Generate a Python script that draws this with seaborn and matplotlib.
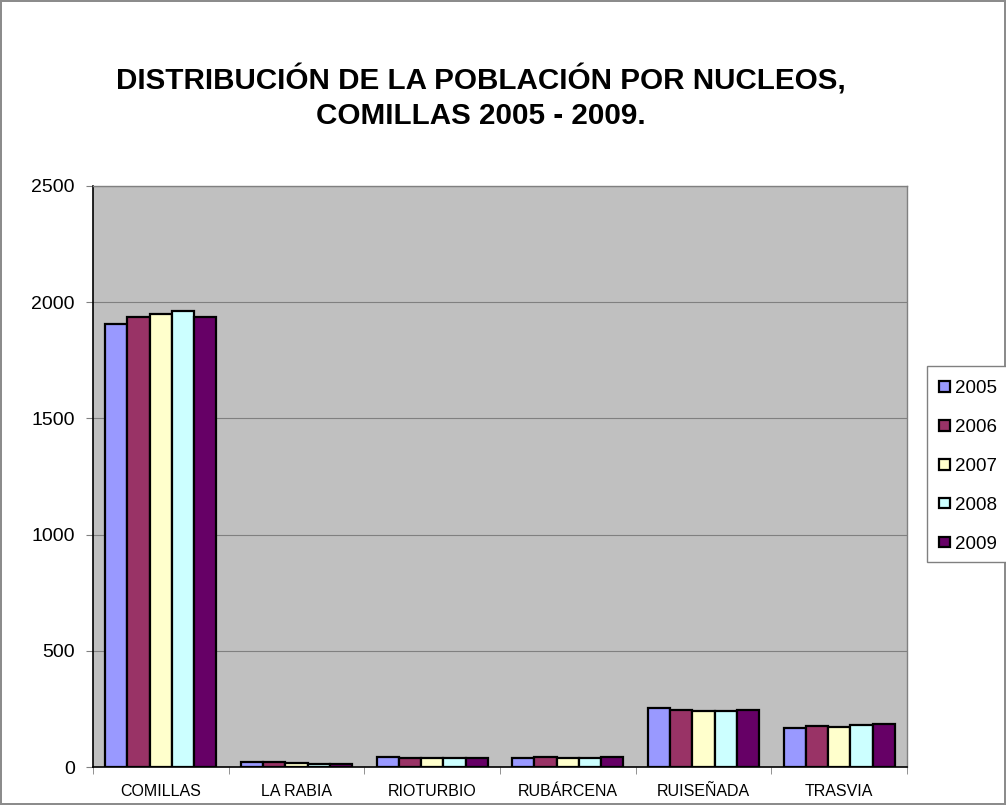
import pandas as pd
import matplotlib.pyplot as plt
from matplotlib.patches import Rectangle
import seaborn as sns

# Population by nucleus, Comillas 2005-2009
NUCLEOS = ["COMILLAS", "LA RABIA", "RIOTURBIO", "RUBÁRCENA", "RUISEÑADA", "TRASVIA"]
YEARS = ["2005", "2006", "2007", "2008", "2009"]
POP_2005 = [1906, 22, 43, 40, 254, 166]
POP_2006 = [1936, 20, 39, 42, 245, 178]
POP_2007 = [1949, 18, 40, 38, 241, 173]
POP_2008 = [1963, 15, 39, 38, 241, 179]
POP_2009 = [1936, 12, 38, 41, 245, 183]
COLORS = ["#9999FF", "#993366", "#FFFFCC", "#CCFFFF", "#660066"]


def build_frame() -> pd.DataFrame:
    series = [POP_2005, POP_2006, POP_2007, POP_2008, POP_2009]
    rows = []
    for year, values in zip(YEARS, series):
        for nucleo, v in zip(NUCLEOS, values):
            rows.append({"nucleo": nucleo, "year": year, "pop": v})
    return pd.DataFrame(rows)


def main() -> None:
    df = build_frame()

    sns.set_style("white")
    plt.rcParams["font.family"] = ["Liberation Sans", "DejaVu Sans"]
    plt.rcParams["text.color"] = "black"
    plt.rcParams["xtick.labelcolor"] = "black"
    plt.rcParams["ytick.labelcolor"] = "black"

    fig = plt.figure(figsize=(10.06, 8.05), dpi=100,
                     edgecolor="#8c8c8c", linewidth=1.5)
    ax = fig.add_axes([0.0924, 0.0472, 0.8092, 0.7218])
    ax.set_facecolor("#C0C0C0")

    sns.barplot(data=df, x="nucleo", y="pop", hue="year", order=NUCLEOS,
                hue_order=YEARS, palette=COLORS, saturation=1, width=0.82,
                gap=0, edgecolor="black", linewidth=1.6, ax=ax, zorder=3)

    ax.set_ylim(0, 2500)
    ax.set_yticks(range(0, 2501, 500))
    ax.set_xlim(-0.5, len(NUCLEOS) - 0.5)
    ax.yaxis.grid(True, color="#808080", linewidth=0.8, zorder=0)
    ax.set_axisbelow(True)
    ax.set_xlabel("")
    ax.set_ylabel("")

    # tick marks between categories like the spreadsheet original
    ax.set_xticks([i + 0.5 for i in range(-1, len(NUCLEOS))], minor=True)
    ax.tick_params(axis="x", which="major", length=0, labelsize=11.5, pad=12,
                   labelcolor="black")
    ax.tick_params(axis="x", which="minor", length=5, color="#808080",
                   direction="out")
    ax.tick_params(axis="y", length=5, color="#808080", direction="out",
                   labelsize=14, pad=8, labelcolor="black")
    ax.xaxis.set_ticks_position("bottom")
    ax.yaxis.set_ticks_position("left")

    for side in ["top", "right"]:
        ax.spines[side].set_color("#808080")
        ax.spines[side].set_linewidth(1.0)
    for side in ["left", "bottom"]:
        ax.spines[side].set_color("black")
        ax.spines[side].set_linewidth(1.2)

    # legend box runs off the right edge, as in the original
    fig.patches.append(Rectangle((927 / 1006, 1 - 562 / 805), 0.2, 196 / 805,
                                 transform=fig.transFigure, facecolor="white",
                                 edgecolor="#808080", linewidth=1.0))
    handles, labels = ax.get_legend_handles_labels()
    ax.legend_.remove()
    leg = fig.legend(handles, labels, loc="upper left",
                     bbox_to_anchor=(939 / 1006, 1 - 380 / 805), fontsize=13.5,
                     handlelength=0.58, handleheight=0.5, handletextpad=0.3,
                     labelspacing=1.17, borderpad=0, frameon=False,
                     borderaxespad=0)
    for t in leg.get_texts():
        t.set_color("black")

    fig.text(0.478, 0.879, "DISTRIBUCIÓN DE LA POBLACIÓN POR NUCLEOS,\nCOMILLAS 2005 - 2009.",
             ha="center", va="center", fontsize=21.3, fontweight="bold",
             color="black", linespacing=1.3)

    fig.savefig("out.png", dpi=100)


if __name__ == "__main__":
    main()
